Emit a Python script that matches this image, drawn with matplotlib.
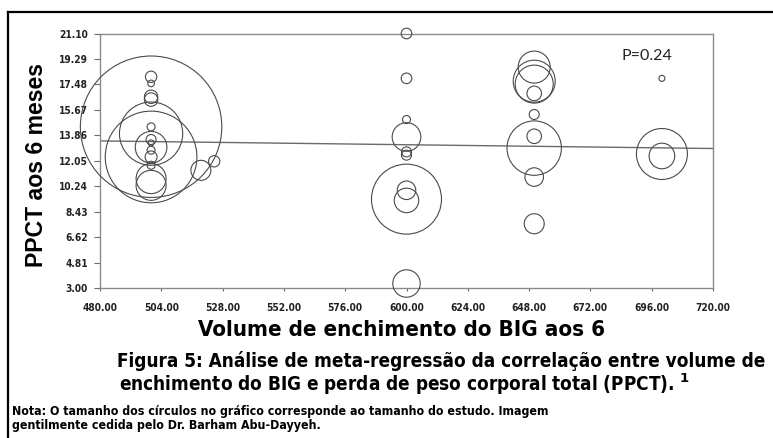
import matplotlib
matplotlib.use("Agg")
import matplotlib.pyplot as plt
from matplotlib.lines import Line2D
from matplotlib.font_manager import FontProperties

# ---------------- data ----------------
vol_500 = [500, 500, 500, 500, 500, 500, 500, 500, 500, 500, 500, 500, 500, 500, 500, 500, 519.5, 524.7]
ppct_500 = [14.47, 12.32, 13.98, 18.02, 17.55, 16.60, 16.40, 13.01, 14.46, 13.56, 13.32, 12.80, 12.32, 11.73, 10.78, 10.30, 11.37, 12.01]
size_500 = [5000, 2100, 1000, 32, 11, 45, 45, 250, 16, 25, 9, 16, 36, 16, 225, 225, 100, 32]

vol_600 = [600] * 10
ppct_600 = [21.10, 17.91, 14.98, 13.74, 12.68, 12.45, 9.32, 9.95, 9.23, 3.32]
size_600 = [28, 28, 16, 205, 25, 25, 1225, 86, 150, 188]

vol_650 = [650] * 9
ppct_650 = [18.71, 17.71, 17.50, 16.84, 15.34, 13.79, 12.95, 10.89, 7.57]
size_650 = [256, 441, 361, 53, 25, 53, 740, 86, 100]

vol_700 = [700] * 3
ppct_700 = [17.91, 12.53, 12.39]
size_700 = [9, 650, 164]

reg_x = [480, 720]
reg_y = [13.46, 12.92]

y_ticks = [3.00, 4.81, 6.62, 8.43, 10.24, 12.05, 13.86, 15.67, 17.48, 19.29, 21.10]
x_ticks = [480, 504, 528, 552, 576, 600, 624, 648, 672, 696, 720]

p_text = "P=0.24"
y_label = "PPCT aos 6 meses"
x_label = "Volume de enchimento do BIG aos 6"
caption1 = "Figura 5: Análise de meta-regressão da correlação entre volume de"
caption2 = "enchimento do BIG e perda de peso corporal total (PPCT). $^{\\mathbf{1}}$"
note1 = "Nota: O tamanho dos círculos no gráfico corresponde ao tamanho do estudo. Imagem"
note2 = "gentilmente cedida pelo Dr. Barham Abu-Dayyeh."

# ---------------- figure ----------------
W, H, DPI = 773, 438, 100
fig = plt.figure(figsize=(W / DPI, H / DPI), dpi=DPI)
fig.patch.set_facecolor("white")

def fx(px):
    return px / W

def fy(py):
    return 1 - py / H

ax_l, ax_r, ax_t, ax_b = 100, 713, 33.5, 288
ax = fig.add_axes([fx(ax_l), fy(ax_b), fx(ax_r - ax_l), (ax_b - ax_t) / H])
ax.set_xlim(480, 720)
ax.set_ylim(3.00, 21.10)

k = (2 * 0.72) ** 2  # px^2 -> pt^2 for diameter
circ_kw = dict(facecolors="none", edgecolors="#4a4a4a", linewidths=0.8, clip_on=False, zorder=3)
for xs, ys, ss in [(vol_500, ppct_500, size_500), (vol_600, ppct_600, size_600),
                   (vol_650, ppct_650, size_650), (vol_700, ppct_700, size_700)]:
    ax.scatter(xs, ys, s=[v * k for v in ss], **circ_kw)

ax.plot(reg_x, reg_y, color="#6a6a6a", lw=1.0, zorder=2)

for sp in ax.spines.values():
    sp.set_color("#8a8a8a")
    sp.set_linewidth(1.0)

cond = dict(family=["DejaVu Sans"], stretch="condensed", weight="bold")

ax.set_yticks(y_ticks)
ax.set_yticklabels([f"{v:.2f}" for v in y_ticks])
ax.set_xticks(x_ticks)
ax.set_xticklabels([f"{v:.2f}" for v in x_ticks])
for lab in ax.get_xticklabels() + ax.get_yticklabels():
    lab.set_fontproperties(FontProperties(size=7.3, **cond))
    lab.set_color("#222222")
ax.tick_params(axis="y", direction="out", length=4.5, width=0.8, color="#6a6a6a", pad=4)
ax.tick_params(axis="x", direction="out", length=2.5, width=0.8, color="#6a6a6a", pad=8)

ax.text(0.851, 0.913, p_text, transform=ax.transAxes, ha="left", va="center",
        fontsize=11.5, family=["Lato", "DejaVu Sans"], color="#222222")

# outer frame (left and top edges visible)
fig.add_artist(Line2D([fx(8), fx(8)], [fy(12), 0], transform=fig.transFigure, color="black", lw=1.6))
fig.add_artist(Line2D([fx(8), 1], [fy(12), fy(12)], transform=fig.transFigure, color="black", lw=1.6))

renderer = fig.canvas.get_renderer()

def fit(x_px, y_px, s, target_w, ha="center", rotation=0, props=None):
    props = props or cond
    t = fig.text(fx(x_px), fy(y_px), s, ha=ha, va="center", rotation=rotation,
                 fontproperties=FontProperties(size=10, **props), color="black")
    bb = t.get_window_extent(renderer=renderer)
    w = bb.height if rotation == 90 else bb.width
    t.set_fontsize(10 * target_w / w)
    return t

def place(x_px, y_px, s, size, ha="center"):
    return fig.text(fx(x_px), fy(y_px), s, ha=ha, va="center",
                    fontproperties=FontProperties(size=size, **cond), color="black")

fit(37, 165, y_label, 204, rotation=90,
    props=dict(family=["Liberation Sans", "DejaVu Sans"], weight="bold"))
fit(402, 330, x_label, 404)
c1 = fit(441, 361, caption1, 645)
place(405, 384, caption2, c1.get_fontsize())
n1 = fit(12, 411, note1, 536, ha="left")
place(12, 426, note2, n1.get_fontsize(), ha="left")

fig.savefig("out.png", dpi=DPI, facecolor="white")
